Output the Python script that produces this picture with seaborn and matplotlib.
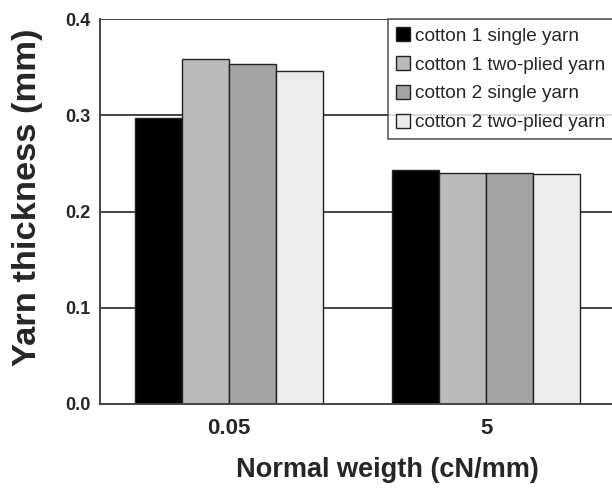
import matplotlib
matplotlib.use("Agg")
import matplotlib.pyplot as plt
import seaborn as sns
import pandas as pd

categories = ["0.05", "5"]
series = ["cotton 1 single yarn", "cotton 1 two-plied yarn",
          "cotton 2 single yarn", "cotton 2 two-plied yarn"]
values_c1_single = [0.297, 0.243]
values_c1_two = [0.358, 0.240]
values_c2_single = [0.353, 0.240]
values_c2_two = [0.346, 0.239]
colors = ["#000000", "#bababa", "#a3a3a3", "#ededed"]

rows = []
for s, vals in zip(series, [values_c1_single, values_c1_two, values_c2_single, values_c2_two]):
    for c, v in zip(categories, vals):
        rows.append({"weight": c, "series": s, "thickness": v})
df = pd.DataFrame(rows)

sns.set_style("white")
plt.rcParams["font.family"] = ["Liberation Sans", "DejaVu Sans"]

fig = plt.figure(figsize=(6.12, 4.92), dpi=100)
ax = fig.add_axes([100/612, 88/492, 1 - 100/612 + 3/612, (404-19)/492])

for y in [0.1, 0.2, 0.3, 0.4]:
    ax.axhline(y, color="#444444", lw=1.4, zorder=0)

sns.barplot(data=df, x="weight", y="thickness", hue="series", hue_order=series,
            order=categories, palette=colors, width=0.73, edgecolor="#222222",
            linewidth=1.0, saturation=1, ax=ax, zorder=2)

ax.set_ylim(0, 0.4)
ax.set_xlim(-0.5, 1.5)
ax.set_yticks([0.0, 0.1, 0.2, 0.3, 0.4])
ax.set_yticklabels(["0.0", "0.1", "0.2", "0.3", "0.4"], fontweight="bold", fontsize=13)
ax.set_xticks([0, 1])
ax.set_xticklabels(categories, fontweight="bold", fontsize=16)
ax.set_xticks([0.5], minor=True)
ax.tick_params(axis="x", which="major", length=0, pad=10)
ax.tick_params(axis="x", which="minor", length=3, width=1, color="#444444", direction="out")
ax.tick_params(axis="y", which="major", length=4, width=1, color="#444444", direction="out", pad=3)
ax.set_xlabel("Normal weigth (cN/mm)", fontsize=19.5, fontweight="bold")
ax.set_ylabel("Yarn thickness (mm)", fontsize=24.8, fontweight="bold")
ax.xaxis.set_label_coords((387 - 100) / 515, -(483 - 404) / 385, transform=ax.transAxes)
ax.xaxis.label.set_va("bottom")
ax.yaxis.set_label_coords(-(100 - 12) / 515, (404 - 197) / 385, transform=ax.transAxes)
ax.yaxis.label.set_va("top")

for side in ["top", "right"]:
    ax.spines[side].set_visible(False)
for side in ["left", "bottom"]:
    ax.spines[side].set_color("#444444")
    ax.spines[side].set_linewidth(1.4)

leg = ax.legend(loc="upper left", bbox_to_anchor=((388-100)/515, 1.0), frameon=True,
                fancybox=False, edgecolor="#333333", fontsize=13.7, handlelength=0.74,
                handleheight=0.74, handletextpad=0.25, borderpad=0.42, labelspacing=0.6,
                borderaxespad=0)
leg.get_frame().set_linewidth(1.2)
leg.set_zorder(5)

fig.savefig("out.png", dpi=100)
